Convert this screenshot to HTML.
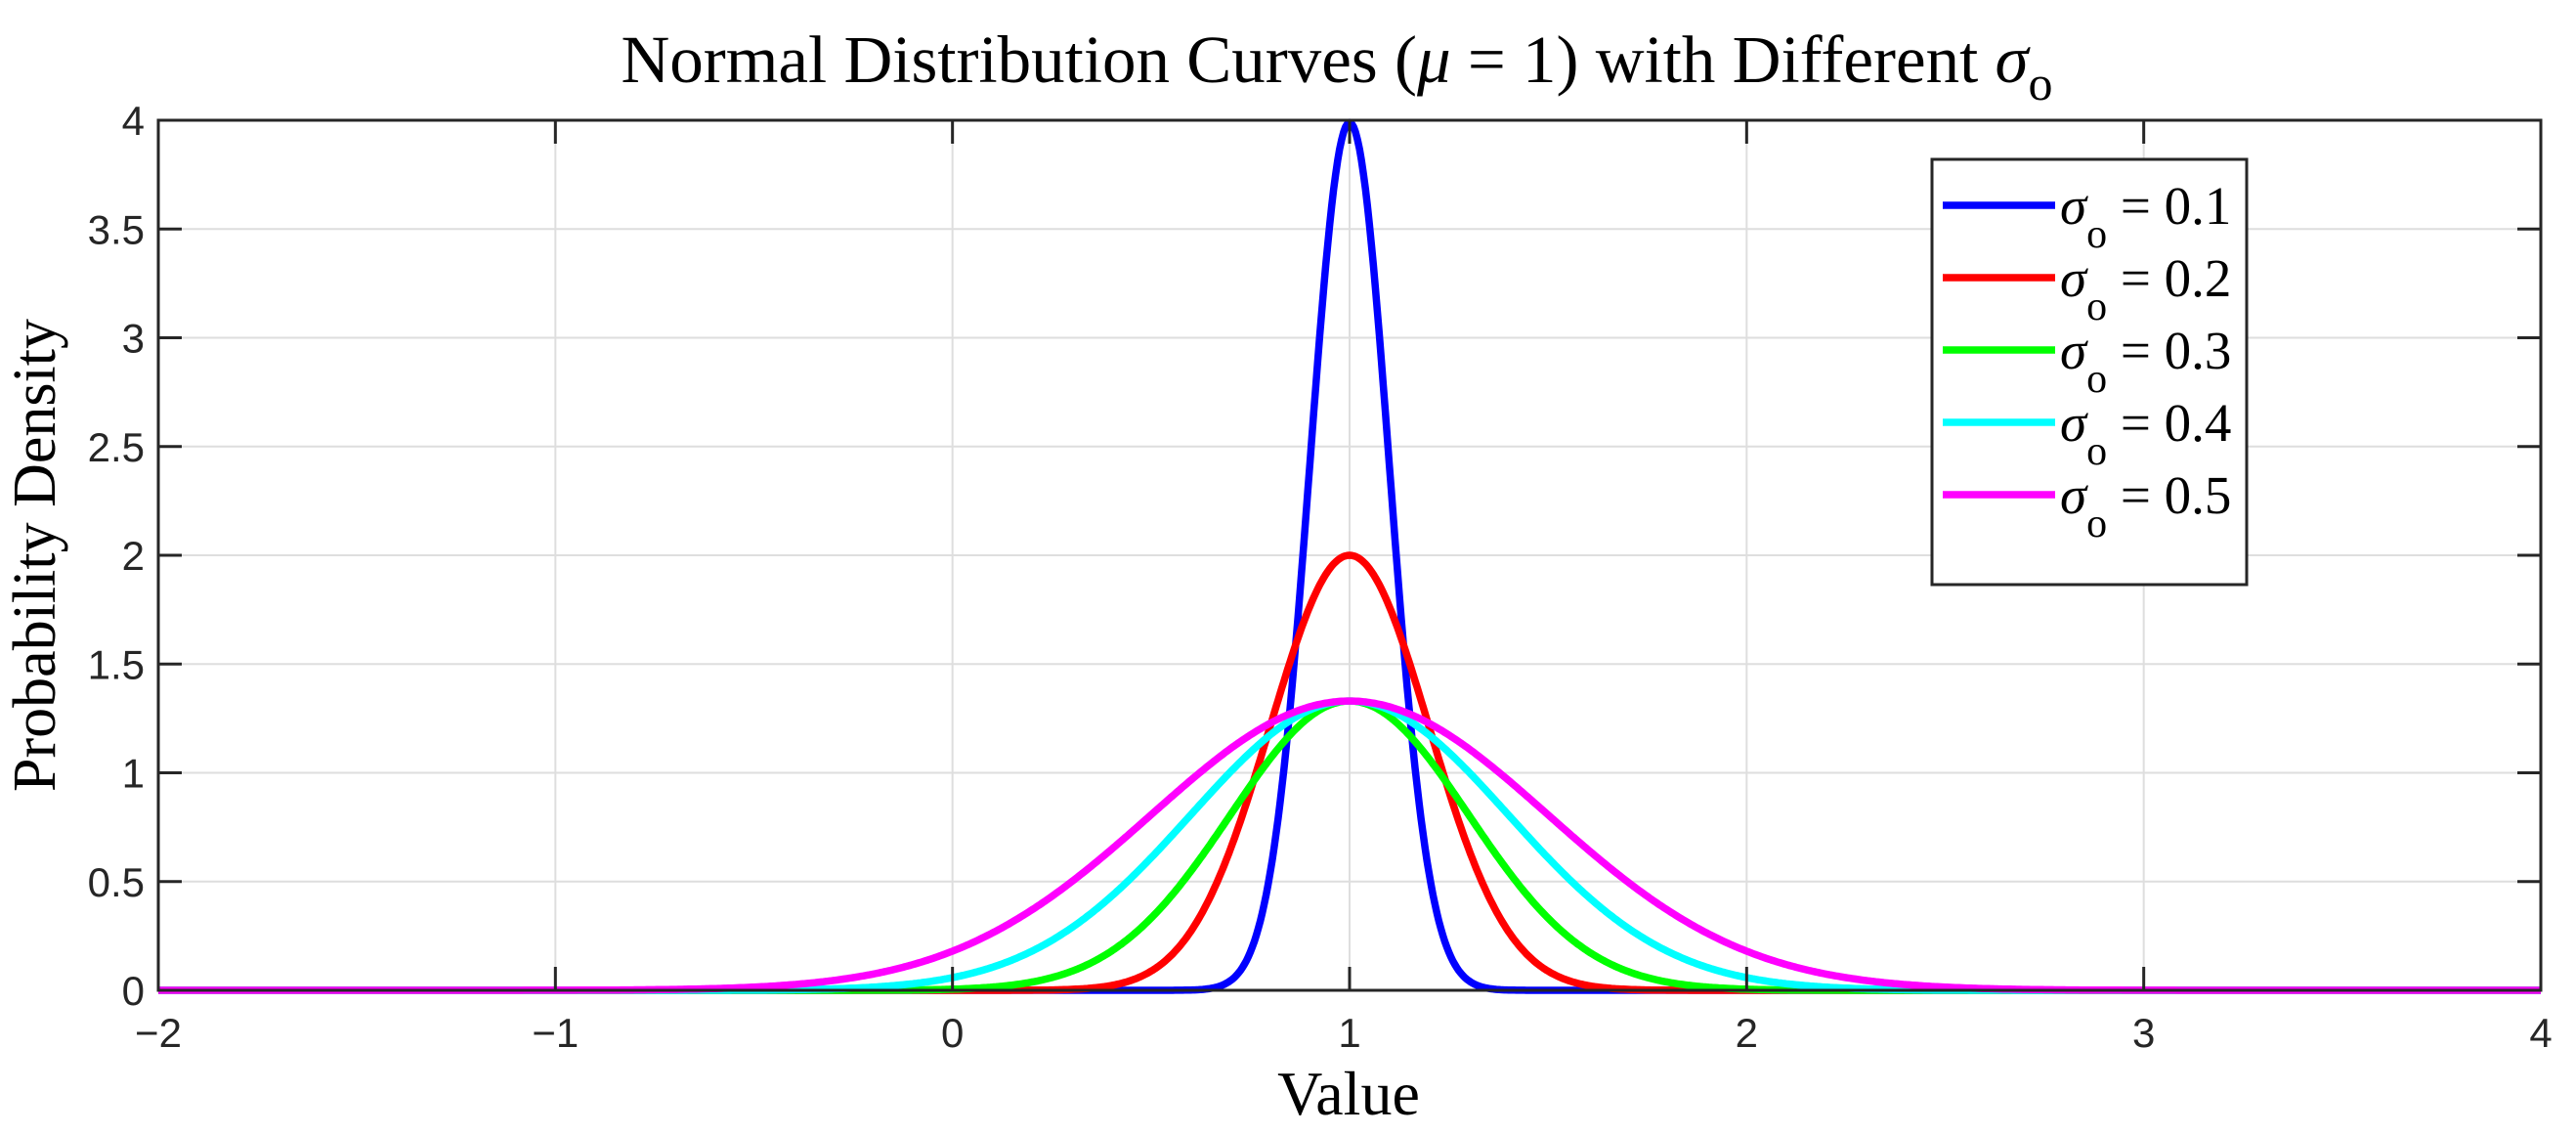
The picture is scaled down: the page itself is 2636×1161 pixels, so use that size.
<!DOCTYPE html>
<html><head><meta charset="utf-8"><style>
html,body{margin:0;padding:0;background:#fff;}
svg{display:block;}
.tick{font-family:"Liberation Sans",sans-serif;font-size:42px;fill:#262626;}
.ser{font-family:"Liberation Serif",serif;fill:#000;}
</style></head><body>
<svg id="chart" width="2636" height="1161" viewBox="0 0 2636 1161">
<g id="grid"></g>
<g id="curves"></g>
<rect x="162" y="123" width="2438" height="890" fill="none" stroke="#262626" stroke-width="3"/>
<g id="ticks"></g>
<text class="ser" x="1368" y="84" font-size="69" text-anchor="middle">Normal Distribution Curves (<tspan font-style="italic">μ</tspan> = 1) with Different <tspan font-style="italic">σ</tspan><tspan font-size="50" dy="18">o</tspan></text>
<text class="ser" x="1380" y="1140" font-size="64" text-anchor="middle">Value</text>
<text class="ser" transform="translate(56,568) rotate(-90)" font-size="62" text-anchor="middle">Probability Density</text>
<g id="legend"></g>
</svg>
<script>
const xTicks=[-2,-1,0,1,2,3,4];
const yTicks=[0,0.5,1,1.5,2,2.5,3,3.5,4];
const yTickLabels=["0","0.5","1","1.5","2","2.5","3","3.5","4"];
const seriesSigma=[0.1,0.2,0.3,0.4,0.5];
const seriesPeak=[3.99,2.0,1.33,1.33,1.33];
const seriesMean=[1,1,1,1,1];
const seriesLabels=["0.1","0.2","0.3","0.4","0.5"];
const seriesColors=["#0000ff","#ff0000","#00ff00","#00ffff","#ff00ff"];

const L=162,R=2600,T=123,B=1013;
const xs=v=>L+(v+2)/6*(R-L);
const ys=v=>B-v/4*(B-T);
const NS="http://www.w3.org/2000/svg";
function mk(t,a,p){const e=document.createElementNS(NS,t);for(const k in a)e.setAttribute(k,a[k]);p.appendChild(e);return e;}
const grid=document.getElementById('grid'),ticks=document.getElementById('ticks');
xTicks.forEach(v=>{
 const g=mk('line',{x1:xs(v),x2:xs(v),y1:T,y2:B,stroke:'#dedede','stroke-width':2},grid);
 
 
 mk('line',{x1:xs(v),x2:xs(v),y1:B,y2:B-24,stroke:'#262626','stroke-width':3},ticks);
 mk('line',{x1:xs(v),x2:xs(v),y1:T,y2:T+24,stroke:'#262626','stroke-width':3},ticks);
 const t=mk('text',{x:xs(v),y:B+58,'text-anchor':'middle',class:'tick'},ticks);
 t.textContent=(v<0?'\u2212'+(-v):String(v));
 
 
});
yTicks.forEach((v,i)=>{
 const g=mk('line',{x1:L,x2:R,y1:ys(v),y2:ys(v),stroke:'#dedede','stroke-width':2},grid);
 
 
 mk('line',{x1:L,x2:L+24,y1:ys(v),y2:ys(v),stroke:'#262626','stroke-width':3},ticks);
 mk('line',{x1:R,x2:R-24,y1:ys(v),y2:ys(v),stroke:'#262626','stroke-width':3},ticks);
 const t=mk('text',{x:L-14,y:ys(v)+15,'text-anchor':'end',class:'tick'},ticks);
 t.textContent=yTickLabels[i];
 
 
});
const curves=document.getElementById('curves');
seriesSigma.forEach((s,i)=>{
 let d='';
 for(let k=0;k<=1200;k++){const x=-2+6*k/1200;const y=seriesPeak[i]*Math.exp(-((x-seriesMean[i])**2)/(2*s*s));d+=(k?'L':'M')+xs(x).toFixed(1)+','+ys(y).toFixed(1);}
 const p=mk('path',{d:d,fill:'none',stroke:seriesColors[i],'stroke-width':7.5,'stroke-linejoin':'round'},curves);
 
 
});
const lg=document.getElementById('legend');
const box=mk('rect',{x:1977,y:163,width:322,height:435,fill:'#fff',stroke:'#262626','stroke-width':3},lg);


seriesLabels.forEach((lab,i)=>{
 const y=210+i*74;
 const g=mk('g',{},lg);
 
 
 mk('line',{x1:1988,x2:2103,y1:y,y2:y,stroke:seriesColors[i],'stroke-width':7.5},g);
 const t=mk('text',{x:2108,y:y+19,class:'ser','font-size':55},g);
 t.innerHTML='<tspan font-style="italic">σ</tspan><tspan font-size="42" dy="24">o</tspan><tspan dy="-24"> = '+lab+'</tspan>';
});
</script>
</body></html>
